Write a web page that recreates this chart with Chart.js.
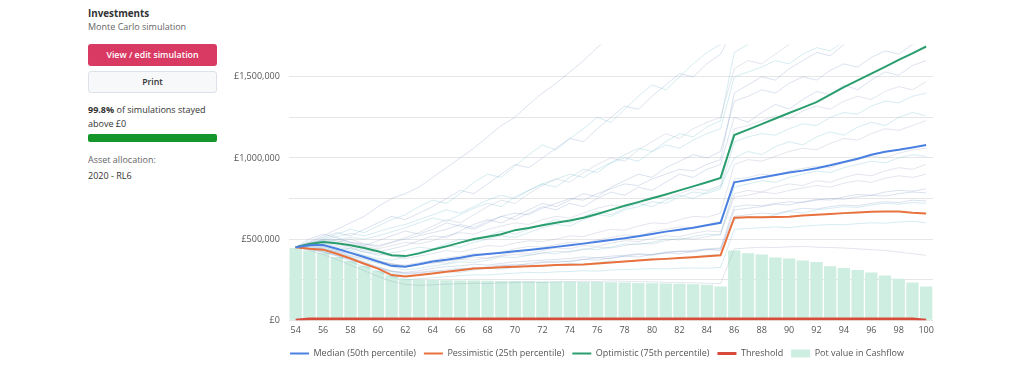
<!DOCTYPE html>
<html>
<head>
<meta charset="utf-8">
<script src="https://cdn.jsdelivr.net/npm/chart.js@4"></script>
<style>
  html, body { margin: 0; padding: 0; background: #fff; }
  body { width: 1024px; height: 365px; position: relative; overflow: hidden; font-family: "Open Sans", sans-serif; color: #333; font-size: 9px; }
  .abs { position: absolute; left: 88px; white-space: nowrap; }
  .title { top: 7px; font-weight: 700; font-size: 9.8px; line-height: 14px; }
  .sub { top: 20px; color: #666; line-height: 14px; }
  .btn { box-sizing: border-box; width: 129px; height: 22px; line-height: 22px; text-align: center; border-radius: 3px; font-weight: 600; font-size: 8.8px; }
  .primary { top: 44px; background: #d93a63; color: #fff; }
  .plain { top: 71px; line-height: 20px; background: #f6f8fa; border: 1px solid #dde2e8; color: #333; }
  .stat { top: 103px; line-height: 14px; white-space: normal; width: 129px; }
  .bar { top: 134px; width: 129px; height: 8px; background: #14962a; border-radius: 2px; }
  .alloc { top: 153px; color: #666; line-height: 14px; }
  .allocv { top: 169px; line-height: 14px; }
  #wrap { position: absolute; left: 225px; top: 30px; width: 716px; height: 341px; }
</style>
</head>
<body>
<div class="abs title">Investments</div>
<div class="abs sub">Monte Carlo simulation</div>
<div class="abs btn primary">View / edit simulation</div>
<div class="abs btn plain">Print</div>
<div class="abs stat"><b>99.8%</b> of simulations stayed above £0</div>
<div class="abs bar"></div>
<div class="abs alloc">Asset allocation:</div>
<div class="abs allocv">2020 - RL6</div>
<div id="wrap"><canvas id="chart"></canvas></div>
<script>
// ages 54..100
const ages = [54,55,56,57,58,59,60,61,62,63,64,65,66,67,68,69,70,71,72,73,74,75,76,77,78,79,80,81,82,83,84,85,86,87,88,89,90,91,92,93,94,95,96,97,98,99,100];

// y grid lines and their labels (values in £ thousands)
const yGridValues = [0, 250, 500, 750, 1000, 1250, 1500];
const yTickLabels = ['£0', '', '£500,000', '', '£1,000,000', '', '£1,500,000'];

// all values in £ thousands
const median = [450,462,463,440,415,390,362,335,330,345,362,372,385,400,408,416,425,433,442,452,462,472,483,495,505,518,532,546,558,570,585,600,850,865,880,895,910,922,937,955,975,995,1020,1038,1050,1065,1080];
const pessimistic = [450,440,435,410,380,348,318,278,270,278,288,298,308,318,322,326,330,333,336,340,342,344,350,356,362,368,374,378,383,388,394,400,632,634,635,636,638,645,650,655,660,664,668,670,670,662,658];
const optimistic = [450,470,482,475,462,445,425,400,395,412,435,455,478,500,515,530,555,568,585,600,615,632,655,680,705,728,752,775,800,825,850,877,1141,1175,1209,1243,1277,1310,1344,1390,1437,1478,1520,1562,1604,1645,1687];
const threshold = [0,8,8,8,8,8,8,8,8,8,8,8,8,8,8,8,8,8,8,8,8,8,8,8,8,8,8,8,8,8,8,8,8,8,8,8,8,8,8,8,8,8,8,8,8,8,0];
const potValue = [445,430,415,390,365,335,305,275,255,250,248,246,245,244,243,242,241,240,239,238,237,236,235,234,232,230,228,226,224,222,218,208,430,413,405,386,380,368,358,333,321,309,294,276,256,233,208];

// some of the individual simulation paths
const simPaths = [
  [450,485,520,560,600,640,700,750,780, 820,880,940,1000,1060,1130,1200,1250,1330,1400, 1460,1530,1600,1680,1750,1800,1850,1900,1950,2000,2050,2100,2150, 2600,2650,2700,2750,2800,2850,2900,2950,3000,3050,3100,3150,3200,3250,3300],
  [450,470,500,530,560,540,580,620,650, 700,740,720,780,850,900,880,950,1020,1080, 1050,1120,1180,1250,1220,1300,1380,1450,1420,1500,1580,1650,1700, 2100,2150,2200,2250,2300,2350,2400,2450,2500,2550,2600,2650,2700,2750,2800],
  [450,475,490,480,500,470,450,480,510, 540,580,620,600,650,700,740,720,780,830, 870,850,910,960,1000,980,1050,1100,1150,1120,1180,1220,1250, 1550,1600,1580,1640,1700,1750,1720,1800,1850,1900,1950,2000,2050,2100,2150],
  [450,460,480,470,450,430,420,440,460, 490,520,510,550,590,620,600,640,680,720, 700,740,780,760,820,860,900,880,940,980,1020,1000,1040, 1350,1380,1420,1400,1460,1500,1480,1540,1580,1560,1620,1660,1640,1700,1720],
  [450,455,470,450,430,400,380,370,390, 420,440,460,450,480,500,520,510,540,570, 590,580,620,650,640,680,700,730,720,760,790,780,810, 1100,1130,1150,1140,1180,1210,1200,1250,1280,1270,1320,1350,1340,1380,1400],
  [450,465,460,440,420,395,370,345,340, 355,370,385,395,410,405,420,440,455,450, 465,480,475,495,510,525,520,545,560,575,570,590,610, 870,880,900,890,920,935,950,940,970,990,1010,1000,1030,1050,1060],
  [450,445,440,420,390,360,330,300,295, 305,320,330,335,345,340,350,360,365,370, 375,380,390,385,395,400,410,405,420,425,430,440,445, 700,710,705,720,730,725,740,750,745,760,770,765,780,790,785],
  [450,440,420,395,360,330,300,270,250, 255,262,268,275,280,278,285,290,295,292, 298,300,305,302,310,312,315,318,316,320,322,320,325, 560,565,570,575,570,580,585,590,588,595,600,598,605,610,600],
  [450,430,405,375,340,305,270,240,220, 215,218,222,225,228,226,230,232,235,233, 236,238,240,238,242,240,238,236,234,232,230,228,225, 440,445,450,448,452,455,450,448,445,440,435,430,420,410,400],
  [450,500,530,510,480,460,490,520,550, 530,560,600,580,560,600,640,620,660,700, 680,720,700,750,790,770,820,800,850,900,880,930,960, 1250,1220,1280,1330,1300,1360,1410,1390,1450,1420,1480,1530,1510,1570,1600],
  [450,470,455,430,445,420,400,415,430, 450,440,470,500,490,520,550,530,560,590, 620,600,640,670,650,690,720,700,740,770,750,790,820, 1000,1040,1020,1070,1100,1080,1130,1160,1140,1190,1220,1200,1250,1280,1260],
  [450,440,450,430,400,380,360,350,330, 340,360,350,375,390,380,400,420,410,430, 445,440,460,455,475,490,485,505,520,515,535,550,545, 780,800,790,820,840,830,860,850,880,900,890,920,940,930,960],
  [450,480,510,540,520,560,600,640,620, 660,700,750,800,780,840,900,960,940,1000, 1060,1120,1100,1180,1250,1320,1300,1380,1450,1520,1500,1580,1640, 1800,1850,1900,1880,1950,2000,2050,2100,2150,2200,2250,2300,2350,2400,2450],
  [450,445,430,410,385,355,320,290,275, 280,290,300,295,310,320,315,325,335,330, 340,350,345,355,365,360,370,380,375,385,390,400,405, 620,640,630,650,670,660,680,690,700,695,710,720,715,725,720],
  [450,460,475,460,440,420,410,395,380, 395,410,430,420,440,460,455,475,490,485, 500,520,515,540,560,555,580,600,595,620,640,635,660, 960,990,980,1010,1040,1060,1050,1090,1120,1110,1150,1180,1170,1200,1230],
  [450,470,490,500,480,470,460,480,500, 520,540,560,590,570,610,640,660,650,690, 720,750,740,780,810,840,830,870,900,930,920,960,990, 1400,1450,1500,1480,1550,1600,1650,1630,1700,1750,1800,1780,1850,1900,1950],
  [450,455,445,420,395,375,350,330,310, 320,335,345,360,355,370,390,385,400,415, 410,425,440,435,450,470,465,480,500,495,515,530,525, 820,840,860,850,880,900,920,910,940,960,980,970,1000,1020,1010],
  [450,475,500,490,470,455,440,460,480, 470,490,520,540,530,560,580,600,590,620, 640,630,660,690,710,700,730,760,750,780,810,800,830, 1180,1200,1230,1260,1240,1290,1320,1300,1350,1380,1360,1410,1440,1420,1470],
  [450,435,420,400,370,345,320,300,285, 290,300,310,320,315,330,340,335,350,360, 355,365,375,370,385,395,390,405,415,410,425,435,430, 680,690,700,715,710,730,745,740,760,775,770,790,800,795,810],
  [450,465,480,495,510,500,520,545,570, 600,630,610,650,690,720,700,760,800,840, 820,880,930,910,970,1020,1060,1040,1100,1150,1130,1190,1230, 1650,1700,1750,1800,1780,1850,1900,1950,2000,2050,2100,2150,2200,2250,2300],
  [450,450,440,425,410,385,365,345,335, 345,350,365,375,370,385,395,405,400,415, 425,420,435,450,445,460,475,470,490,505,500,515,530, 760,770,790,780,800,815,830,820,845,860,850,875,890,880,900],
  [450,440,425,400,375,350,325,305,290, 295,305,300,315,325,320,335,345,340,355, 365,360,375,385,380,395,405,400,415,425,420,435,440, 640,650,660,655,675,690,685,700,710,705,720,730,725,740,735],
  [450,470,495,515,535,520,545,570,590, 620,650,680,660,700,740,770,750,800,840, 870,900,880,930,970,1000,980,1040,1080,1060,1110,1150,1180, 1500,1530,1560,1600,1580,1640,1680,1660,1720,1760,1740,1800,1840,1820,1880]
];

const pathColours = ['rgba(110,140,190,0.25)', 'rgba(90,180,200,0.25)', 'rgba(140,155,185,0.25)'];

const datasets = [
  {
    type: 'line', label: 'Median (50th percentile)', data: median,
    borderColor: '#4a80e2', backgroundColor: '#4a80e2', borderWidth: 2,
    pointRadius: 0, pointStyle: 'line', order: 1
  },
  {
    type: 'line', label: 'Pessimistic (25th percentile)', data: pessimistic,
    borderColor: '#e8713e', backgroundColor: '#e8713e', borderWidth: 2,
    pointRadius: 0, pointStyle: 'line', order: 1
  },
  {
    type: 'line', label: 'Optimistic (75th percentile)', data: optimistic,
    borderColor: '#2a9e6f', backgroundColor: '#2a9e6f', borderWidth: 2,
    pointRadius: 0, pointStyle: 'line', order: 1
  },
  {
    type: 'line', label: 'Threshold', data: threshold,
    borderColor: '#d84a3a', backgroundColor: '#d84a3a', borderWidth: 3,
    pointRadius: 0, pointStyle: 'line', order: 0
  },
  {
    type: 'bar', label: 'Pot value in Cashflow', data: potValue,
    backgroundColor: '#cdeee0', borderWidth: 0,
    barPercentage: 0.9, categoryPercentage: 1, pointStyle: 'rect', order: 3
  }
];

simPaths.forEach((p, i) => {
  datasets.push({
    type: 'line', label: 'sim', data: p,
    borderColor: pathColours[i % 3], borderWidth: 1,
    pointRadius: 0, order: 2
  });
});

const tickFont = { family: 'Open Sans', size: 9 };

// nudge the legend a bit to the right, as in the original page
const legendShift = {
  id: 'legendShift',
  afterLayout(chart) {
    chart.legend.left += 18;
    chart.legend.right += 18;
  }
};

new Chart(document.getElementById('chart'), {
  type: 'bar',
  data: { labels: ages, datasets: datasets },
  plugins: [legendShift],
  options: {
    responsive: true,
    maintainAspectRatio: false,
    animation: false,
    layout: { padding: { top: 12, right: 8, left: 0, bottom: 3 } },
    plugins: {
      tooltip: { enabled: false },
      legend: {
        position: 'bottom',
        labels: {
          filter: item => item.text !== 'sim',
          sort: (a, b) => a.datasetIndex - b.datasetIndex,
          usePointStyle: true,
          pointStyleWidth: 19,
          boxHeight: 8,
          padding: 8,
          color: '#555',
          font: tickFont
        }
      }
    },
    scales: {
      x: {
        offset: true,
        grid: { display: false, drawTicks: false },
        border: { display: false },
        ticks: {
          autoSkip: false, maxRotation: 0, color: '#555', font: tickFont, padding: 5,
          callback: (v, i) => ages[i] % 2 === 0 ? String(ages[i]) : ''
        }
      },
      y: {
        min: 0, max: 1700,
        grid: { color: '#e6e6e6', drawTicks: false },
        border: { display: false },
        afterBuildTicks: axis => { axis.ticks = yGridValues.map(v => ({ value: v })); },
        ticks: {
          autoSkip: false, color: '#555', font: tickFont, padding: 9,
          callback: (v, i) => yTickLabels[i]
        }
      }
    }
  }
});
</script>
</body>
</html>
